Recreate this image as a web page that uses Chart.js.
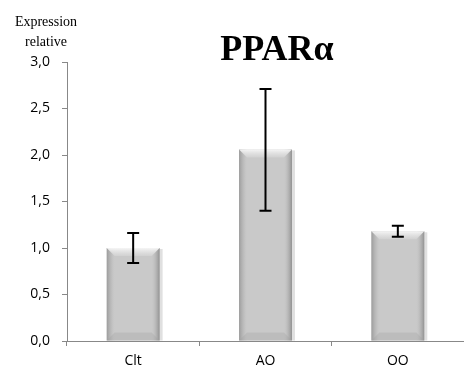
<!DOCTYPE html>
<html>
<head>
<meta charset="utf-8">
<script src="https://cdn.jsdelivr.net/npm/chart.js@4"></script>
<style>
  html, body { margin: 0; padding: 0; background: #fff; }
  #wrap { width: 464px; height: 372px; position: relative; }
</style>
</head>
<body>
<div id="wrap"><canvas id="pparChart"></canvas></div>
<script>
const categories = ['Clt', 'AO', 'OO'];
const expression = [1.0, 2.06, 1.18];
const errLow = [0.84, 1.40, 1.12];
const errHigh = [1.16, 2.71, 1.24];
const yTicks = [0, 0.5, 1.0, 1.5, 2.0, 2.5, 3.0];

// bevelled grey bars + error bars, drawn from the bar elements
const barDecor = {
	id: 'barDecor',
	beforeDatasetsDraw(chart) {
		// soft shadow behind bars
		const ctx = chart.ctx;
		chart.getDatasetMeta(0).data.forEach(bar => {
			const l = bar.x - bar.width / 2;
			ctx.save();
			ctx.fillStyle = 'rgba(0,0,0,0.12)';
			ctx.fillRect(l + 1, bar.y + 1, bar.width + 2, bar.base - bar.y - 1);
			ctx.restore();
		});
	},
	afterDatasetsDraw(chart) {
		const ctx = chart.ctx;
		const y = chart.scales.y;
		chart.getDatasetMeta(0).data.forEach((bar, i) => {
			const l = bar.x - bar.width / 2, r = bar.x + bar.width / 2;
			const t = bar.y, b = bar.base;
			const bev = Math.min(8, (b - t) / 3);
			ctx.save();
			// side shading
			let g = ctx.createLinearGradient(l, 0, r, 0);
			g.addColorStop(0, 'rgba(100,100,100,0.45)');
			g.addColorStop(0.1, 'rgba(140,140,140,0.15)');
			g.addColorStop(0.16, 'rgba(200,200,200,0)');
			g.addColorStop(0.84, 'rgba(200,200,200,0)');
			g.addColorStop(0.9, 'rgba(140,140,140,0.15)');
			g.addColorStop(1, 'rgba(90,90,90,0.5)');
			ctx.fillStyle = g;
			ctx.fillRect(l, t, r - l, b - t);
			// top bevel
			ctx.beginPath();
			ctx.moveTo(l, t); ctx.lineTo(r, t);
			ctx.lineTo(r - bev, t + bev); ctx.lineTo(l + bev, t + bev);
			ctx.closePath();
			g = ctx.createLinearGradient(0, t, 0, t + bev);
			g.addColorStop(0, 'rgba(248,248,248,0.95)');
			g.addColorStop(1, 'rgba(215,215,215,0.6)');
			ctx.fillStyle = g;
			ctx.fill();
			// bottom bevel
			ctx.beginPath();
			ctx.moveTo(l, b); ctx.lineTo(r, b);
			ctx.lineTo(r - bev, b - bev); ctx.lineTo(l + bev, b - bev);
			ctx.closePath();
			ctx.fillStyle = 'rgba(160,160,160,0.3)';
			ctx.fill();
			ctx.restore();

			// error bar
			const yl = y.getPixelForValue(errLow[i]);
			const yh = y.getPixelForValue(errHigh[i]);
			const cap = 6;
			ctx.save();
			ctx.strokeStyle = '#000';
			ctx.lineWidth = 2;
			ctx.beginPath();
			ctx.moveTo(bar.x, yl); ctx.lineTo(bar.x, yh);
			ctx.moveTo(bar.x - cap, yl); ctx.lineTo(bar.x + cap, yl);
			ctx.moveTo(bar.x - cap, yh); ctx.lineTo(bar.x + cap, yh);
			ctx.stroke();
			ctx.restore();
		});
	}
};

// title and axis title text
const labels = {
	id: 'labels',
	afterDraw(chart) {
		const ctx = chart.ctx;
		ctx.save();
		ctx.fillStyle = '#000';
		ctx.textAlign = 'center';
		ctx.textBaseline = 'alphabetic';
		ctx.font = 'bold 36px "Liberation Serif", "Times New Roman", serif';
		ctx.fillText('PPARα', 277, 60);
		ctx.font = '14px "Liberation Serif", "Times New Roman", serif';
		ctx.fillText('Expression', 46, 26);
		ctx.fillText('relative', 46, 46);
		ctx.restore();
	}
};

new Chart(document.getElementById('pparChart'), {
	type: 'bar',
	data: {
		labels: categories,
		datasets: [{
			label: 'PPARα',
			data: expression,
			backgroundColor: '#c9c9c9',
			borderWidth: 0,
			barPercentage: 0.5,
			categoryPercentage: 0.8
		}]
	},
	options: {
		responsive: true,
		maintainAspectRatio: false,
		animation: false,
		layout: { padding: { top: 62, right: 0, left: 0, bottom: 0 } },
		plugins: {
			legend: { display: false },
			tooltip: { enabled: false }
		},
		scales: {
			x: {
				afterFit: s => { s.height = 31; },
				grid: {
					offset: true,
					drawOnChartArea: false,
					color: '#888',
					tickLength: 5
				},
				border: { color: '#888', width: 1 },
				ticks: {
					color: '#000',
					padding: 7,
					font: { family: '"Open Sans", "Liberation Sans", sans-serif', size: 14 }
				}
			},
			y: {
				min: 0,
				max: 3,
				afterFit: s => { s.width = 67; },
				afterBuildTicks: s => { s.ticks = yTicks.map(v => ({ value: v })); },
				grid: {
					drawOnChartArea: false,
					color: '#888',
					tickLength: 5
				},
				border: { color: '#888', width: 1 },
				ticks: {
					color: '#000',
					padding: 12,
					font: { family: '"Open Sans", "Liberation Sans", sans-serif', size: 14 },
					callback: v => v.toFixed(1).replace('.', ',')
				}
			}
		}
	},
	plugins: [barDecor, labels]
});
</script>
</body>
</html>
